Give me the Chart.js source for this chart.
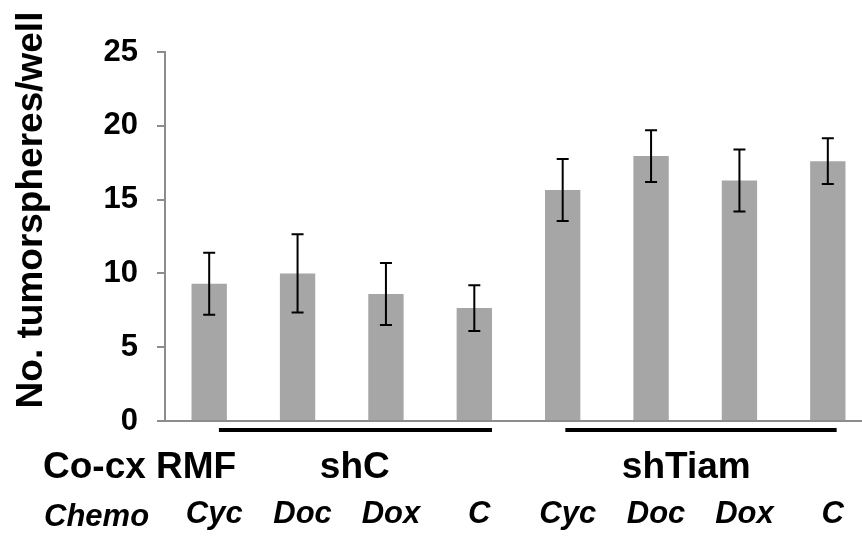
<!DOCTYPE html>
<html>
<head>
<meta charset="utf-8">
<script src="https://cdn.jsdelivr.net/npm/chart.js@4/dist/chart.umd.min.js"></script>
<style>
  html, body { margin: 0; padding: 0; background: #fff; overflow: hidden; }
  #wrap { width: 862px; height: 540px; overflow: hidden; }
</style>
</head>
<body>
<div id="wrap"><canvas id="chart" width="872" height="540"></canvas></div>
<script>
// chart values
const treatments = ['Cyc', 'Doc', 'Dox', 'C', 'Cyc', 'Doc', 'Dox', 'C'];
const means = [9.3, 10.0, 8.6, 7.65, 15.65, 17.95, 16.3, 17.6];
const errors = [2.1, 2.65, 2.1, 1.55, 2.1, 1.75, 2.1, 1.55];
const groupLabels = ['shC', 'shTiam'];
const groupRanges = [[0, 3], [4, 7]];
const yTicks = [0, 5, 10, 15, 20, 25];

const FONT = "'Liberation Sans', Arial, sans-serif";

const annotations = {
    id: 'annotations',
    afterDatasetsDraw(chart) {
        const { ctx, scales: { x, y } } = chart;
        ctx.save();

        // error bars
        ctx.strokeStyle = '#000';
        ctx.lineWidth = 2;
        means.forEach((m, i) => {
            const px = x.getPixelForValue(i);
            const top = y.getPixelForValue(m + errors[i]);
            const bot = y.getPixelForValue(m - errors[i]);
            ctx.beginPath();
            ctx.moveTo(px, top); ctx.lineTo(px, bot);
            ctx.moveTo(px - 6, top); ctx.lineTo(px + 6, top);
            ctx.moveTo(px - 6, bot); ctx.lineTo(px + 6, bot);
            ctx.stroke();
        });

        // group underlines
        const step = x.getPixelForValue(1) - x.getPixelForValue(0);
        const lineY = y.getPixelForValue(0) + 9;
        ctx.lineWidth = 4;
        const lineOffsets = [[0.11, 0.2], [0.03, 0.1]];
        groupRanges.forEach((r, g) => {
            ctx.beginPath();
            ctx.moveTo(x.getPixelForValue(r[0]) + lineOffsets[g][0] * step, lineY);
            ctx.lineTo(x.getPixelForValue(r[1]) + lineOffsets[g][1] * step, lineY);
            ctx.stroke();
        });

        // row labels
        ctx.fillStyle = '#000';
        ctx.textBaseline = 'alphabetic';
        ctx.font = `bold 37px ${FONT}`;
        ctx.textAlign = 'left';
        ctx.fillText('Co-cx RMF', 43, 478);
        ctx.textAlign = 'center';
        const groupShift = [13, -9];
        groupRanges.forEach((r, g) => {
            const cx = (x.getPixelForValue(r[0] + 1) + x.getPixelForValue(r[0] + 2)) / 2;
            ctx.fillText(groupLabels[g], cx + groupShift[g], 478);
        });
        ctx.font = `italic bold 31px ${FONT}`;
        ctx.textAlign = 'left';
        ctx.fillText('Chemo', 44, 526);

        // y title
        ctx.font = `bold 37px ${FONT}`;
        ctx.translate(42, 210);
        ctx.rotate(-Math.PI / 2);
        ctx.textAlign = 'center';
        ctx.fillText('No. tumorspheres/well', 0, 0);

        ctx.restore();
    }
};

new Chart(document.getElementById('chart'), {
    type: 'bar',
    data: {
        labels: treatments,
        datasets: [{
            data: means,
            backgroundColor: '#a6a6a6',
            borderWidth: 0,
            barPercentage: 0.4,
            categoryPercentage: 1.0
        }]
    },
    options: {
        responsive: false,
        animation: false,
        layout: { padding: { left: 103, top: 52, right: 0, bottom: 0 } },
        plugins: {
            legend: { display: false },
            tooltip: { enabled: false }
        },
        scales: {
            x: {
                afterFit: s => { s.height = 119; },
                grid: { display: false, drawTicks: true, tickLength: 75 },
                border: { display: true, color: '#8c8c8c', width: 2 },
                ticks: {
                    color: '#000',
                    padding: 0,
                    labelOffset: 5,
                    maxRotation: 0,
                    autoSkip: false,
                    font: { family: FONT, size: 31, weight: 'bold', style: 'italic' }
                }
            },
            y: {
                min: 0,
                max: 25,
                afterFit: s => { s.width = 62; },
                afterBuildTicks: s => { s.ticks = yTicks.map(v => ({ value: v })); },
                grid: { drawOnChartArea: false, drawTicks: true, tickLength: 8, color: '#8c8c8c', lineWidth: 2 },
                border: { display: true, color: '#8c8c8c', width: 2 },
                ticks: {
                    color: '#000',
                    padding: 19,
                    font: { family: FONT, size: 31, weight: 'bold' }
                }
            }
        }
    },
    plugins: [annotations]
});
</script>
</body>
</html>
